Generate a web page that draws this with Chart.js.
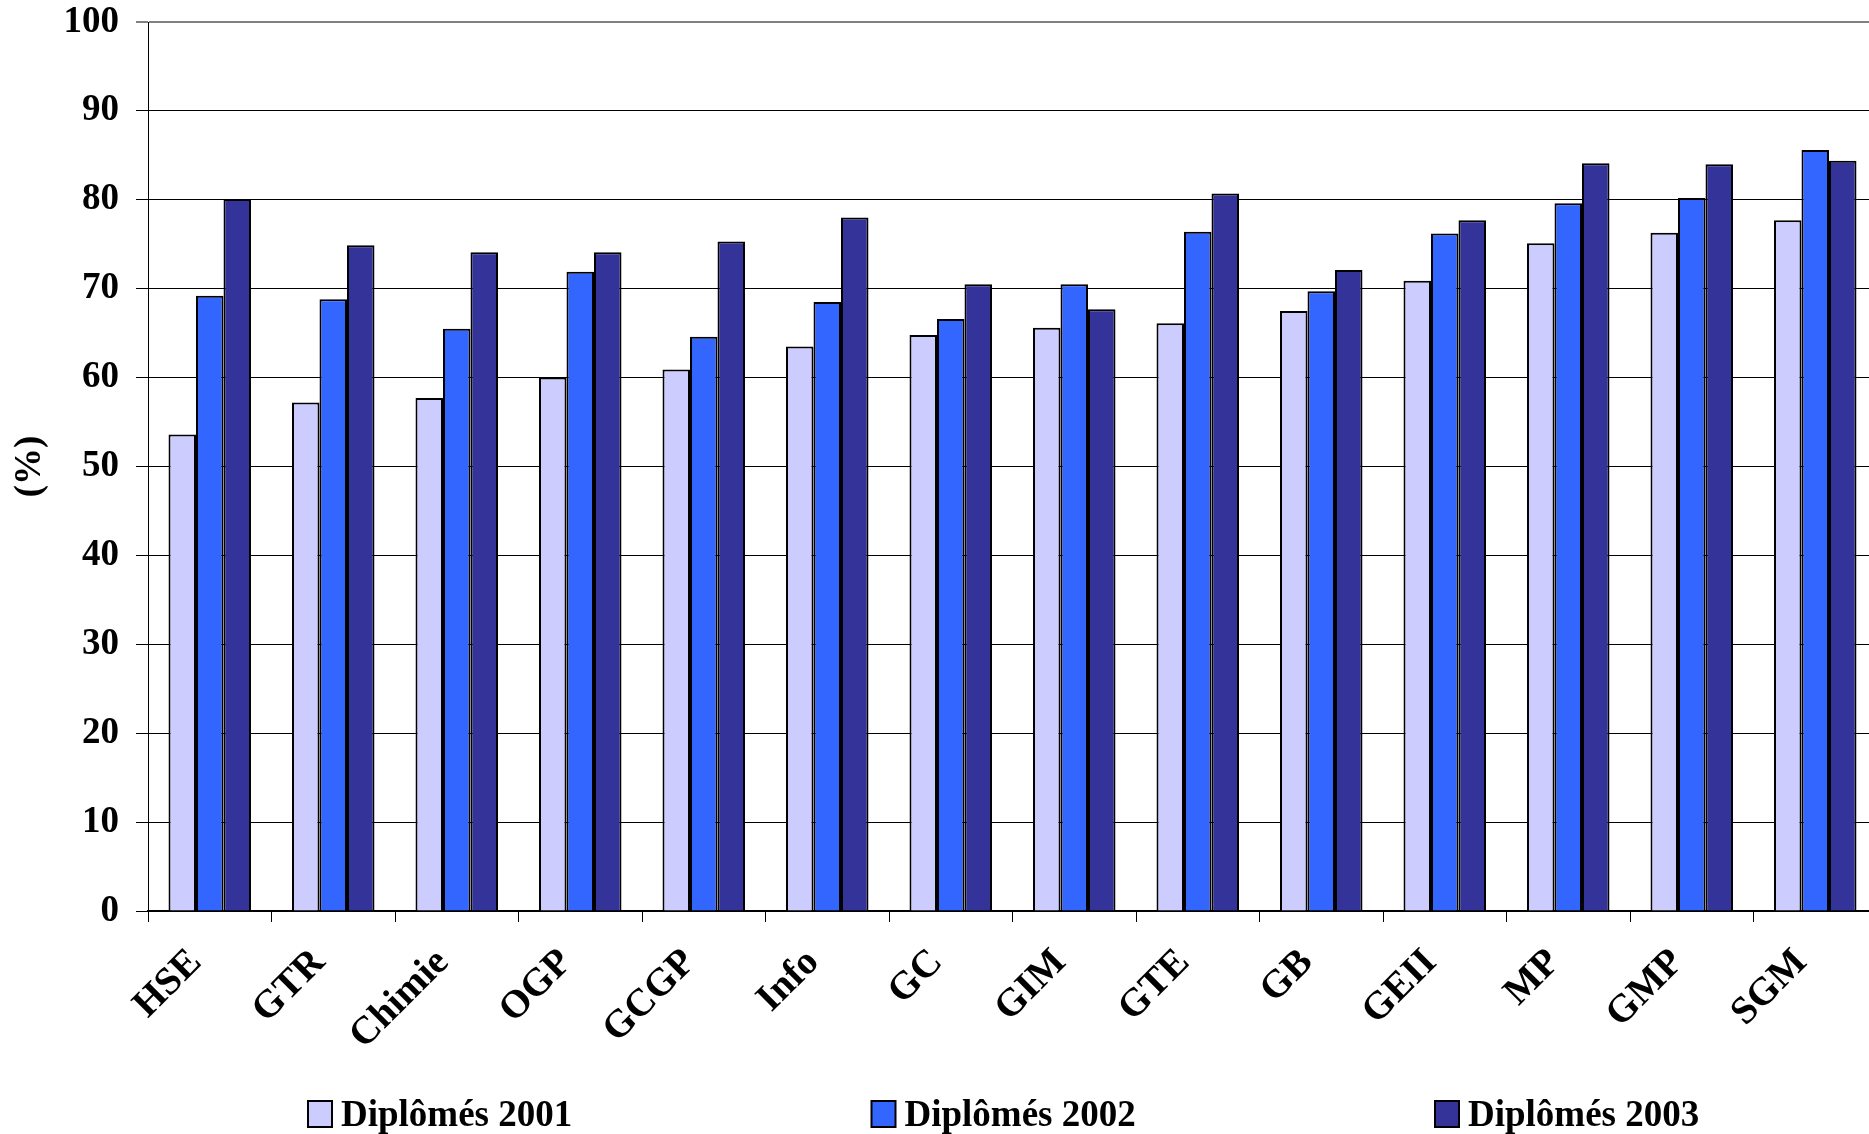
<!DOCTYPE html>
<html>
<head>
<meta charset="utf-8">
<script src="https://cdn.jsdelivr.net/npm/chart.js@4.4.0/dist/chart.umd.min.js"></script>
<style>
  html, body { margin: 0; padding: 0; background: #fff; overflow: hidden; }
  #wrap { width: 1877px; height: 1134px; }
</style>
</head>
<body>
<div id="wrap"><canvas id="c" width="1877" height="1134"></canvas></div>
<script>
const categories = ["HSE", "GTR", "Chimie", "OGP", "GCGP", "Info", "GC", "GIM", "GTE", "GB", "GEII", "MP", "GMP", "SGM"];
const diplomes2001 = [53.6, 57.2, 57.7, 60.0, 60.9, 63.5, 64.8, 65.6, 66.1, 67.5, 70.9, 75.1, 76.3, 77.7];
const diplomes2002 = [69.2, 68.8, 65.5, 71.9, 64.6, 68.5, 66.6, 70.5, 76.4, 69.7, 76.2, 79.6, 80.2, 85.6];
const diplomes2003 = [80.1, 74.9, 74.1, 74.1, 75.3, 78.0, 70.5, 67.7, 80.7, 72.1, 77.7, 84.1, 84.0, 84.4];
const seriesLabels = ["Diplômés 2001", "Diplômés 2002", "Diplômés 2003"];
const yTicks = [0, 10, 20, 30, 40, 50, 60, 70, 80, 90, 100];

const FONT = "'Liberation Serif', 'Times New Roman', serif";
const colors = ["#CCCCFF", "#3366FF", "#333399"];

const customLegend = {
  id: 'customLegend',
  afterDraw(chart) {
    const ctx = chart.ctx;
    const area = chart.chartArea;
    const yC = 1114;
    ctx.save();
    ctx.font = "bold 37px " + FONT;
    ctx.textBaseline = 'middle';
    ctx.textAlign = 'left';
    chart.data.datasets.forEach((ds, i) => {
      const x = area.left + 160 + i * 563.5;
      ctx.fillStyle = ds.backgroundColor;
      ctx.fillRect(x, yC - 13, 24, 26);
      ctx.lineWidth = 2;
      ctx.strokeStyle = '#000';
      ctx.strokeRect(x, yC - 13, 24, 26);
      ctx.fillStyle = '#000';
      ctx.fillText(ds.label, x + 33, yC + 2);
    });
    ctx.restore();
  }
};

const datasets = [diplomes2001, diplomes2002, diplomes2003].map((d, i) => ({
  label: seriesLabels[i],
  data: d,
  backgroundColor: colors[i],
  borderColor: '#000',
  borderWidth: 2,
  borderSkipped: 'bottom',
  categoryPercentage: 0.668,
  barPercentage: 1.0
}));

new Chart(document.getElementById('c'), {
  type: 'bar',
  data: { labels: categories, datasets },
  plugins: [customLegend],
  options: {
    responsive: false,
    animation: false,
    devicePixelRatio: 1,
    layout: { padding: { top: 22, left: 0, right: 0, bottom: 0 } },
    plugins: {
      legend: { display: false },
      tooltip: { enabled: false }
    },
    scales: {
      x: {
        grid: {
          display: true,
          drawOnChartArea: false,
          drawTicks: true,
          tickLength: 11,
          color: '#000',
          lineWidth: 1,
          offset: true
        },
        border: { display: true, color: '#000', width: 2 },
        ticks: {
          color: '#000',
          font: { family: FONT, size: 39, weight: 'bold' },
          minRotation: 45,
          maxRotation: 45,
          padding: 18,
          labelOffset: -14,
          autoSkip: false
        },
        afterFit(scale) {
          scale.height = 223;
          scale.paddingLeft = 0;
          scale.paddingRight = 0;
        }
      },
      y: {
        min: 0,
        max: 100,
        afterBuildTicks(scale) { scale.ticks = yTicks.map(v => ({ value: v })); },
        grid: {
          color: (c) => (c.tick && c.tick.value === 100) ? '#808080' : '#000',
          lineWidth: (c) => (c.tick && c.tick.value === 100) ? 2 : 1,
          drawTicks: true,
          tickLength: 12
        },
        border: { display: true, color: '#000', width: 1 },
        ticks: {
          color: '#000',
          font: { family: FONT, size: 37, weight: 'bold' },
          padding: 17
        },
        title: {
          display: true,
          text: '(%)',
          color: '#000',
          font: { family: FONT, size: 37, weight: 'bold' },
          padding: { top: 8, bottom: 4 }
        },
        afterFit(scale) {
          scale.width = 148;
          scale.paddingTop = 0;
          scale.paddingBottom = 0;
        }
      }
    }
  }
});
</script>
</body>
</html>
